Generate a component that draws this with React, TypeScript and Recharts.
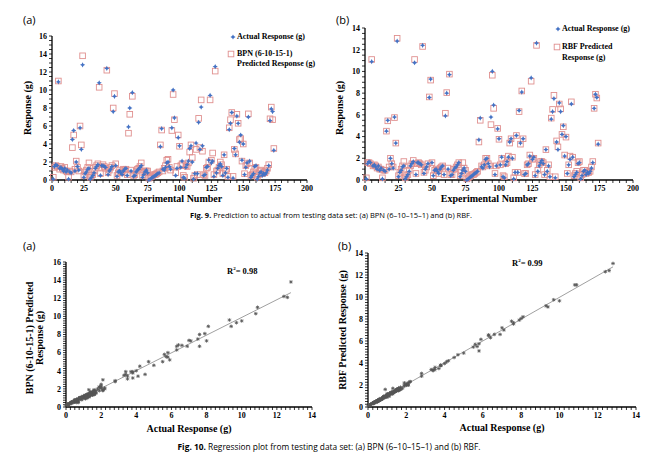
import React from 'react';
import { ScatterChart, Scatter, XAxis, YAxis, ReferenceLine } from 'recharts';

// measured responses (g), experiments 1..174
const ACTUAL = [
  0.1, 1.5, 1.7, 1.6, 10.9, 1.3, 1.4, 1.2, 1.0, 1.3,
  0.9, 1.1, 0.1, 0.9, 0.8, 4.5, 5.5, 1.0, 2.0, 1.5,
  1.1, 5.8, 3.4, 12.8, 0.3, 0.7, 0.9, 1.2, 1.3, 0.1,
  0.3, 0.5, 0.8, 1.3, 1.5, 1.7, 10.8, 0.5, 1.6, 1.6,
  1.5, 1.4, 12.4, 0.6, 1.0, 1.2, 1.5, 7.6, 9.3, 1.6,
  0.4, 0.9, 1.0, 0.8, 0.6, 1.0, 1.2, 1.3, 0.5, 5.9,
  8.0, 1.0, 9.7, 0.4, 0.5, 0.9, 1.1, 1.2, 1.4, 1.6,
  0.3, 0.6, 0.9, 1.1, 0.8, 0.0, 0.1, 0.2, 0.3, 0.4,
  0.5, 0.6, 0.7, 0.8, 3.7, 5.7, 1.2, 1.1, 1.4, 1.9,
  2.0, 1.5, 1.2, 5.8, 10.0, 6.9, 0.5, 1.3, 4.7, 3.8,
  1.4, 2.1, 0.3, 0.2, 1.4, 1.7, 2.1, 3.5, 3.8, 2.0,
  0.1, 0.7, 4.1, 0.7, 6.4, 3.4, 8.1, 3.8, 0.5, 0.6,
  1.4, 1.5, 2.2, 9.4, 1.9, 2.1, 0.4, 12.6, 0.8, 1.3,
  1.6, 1.8, 1.5, 0.5, 2.8, 0.8, 1.3, 0.3, 5.6, 6.3,
  7.5, 0.2, 3.5, 2.8, 7.1, 6.3, 4.2, 5.0, 2.2, 4.0,
  0.6, 1.4, 1.9, 7.0, 2.1, 0.3, 0.5, 0.7, 1.5, 1.6,
  0.1, 0.4, 0.8, 0.9, 0.5, 0.7, 0.6, 0.8, 1.1, 1.6,
  6.6, 7.9, 7.6, 3.3,
];

// BPN (6-10-15-1) predictions
const BPN = [
  0.3, 1.4, 1.6, 1.5, 11.0, 1.2, 1.5, 1.3, 1.1, 1.4,
  1.0, 0.9, 0.3, 1.0, 0.9, 3.6, 5.0, 1.2, 2.1, 1.4,
  1.0, 6.0, 3.9, 13.8, 0.5, 0.9, 1.1, 1.4, 1.9, 0.3,
  0.5, 0.6, 1.0, 1.4, 1.6, 1.8, 10.3, 0.7, 1.4, 1.7,
  1.5, 1.3, 12.2, 0.8, 1.1, 1.4, 1.6, 8.0, 9.6, 1.8,
  0.5, 0.8, 1.1, 0.9, 0.8, 1.2, 1.1, 1.2, 0.6, 5.2,
  7.3, 1.1, 9.3, 0.5, 0.6, 1.0, 1.2, 1.3, 1.5, 1.9,
  0.5, 0.8, 1.0, 1.0, 1.0, 0.2, 0.3, 0.4, 0.5, 0.6,
  0.6, 0.7, 0.8, 0.9, 3.9, 5.55, 1.0, 1.3, 1.6, 2.2,
  2.3, 1.4, 1.1, 5.5, 9.5, 6.7, 0.8, 1.5, 5.0, 3.75,
  1.6, 1.8, 0.5, 0.3, 1.6, 1.5, 1.9, 3.1, 3.9, 2.5,
  0.2, 0.5, 3.4, 0.6, 6.85, 3.6, 8.9, 3.2, 0.6, 0.5,
  1.3, 1.4, 2.0, 8.9, 2.2, 3.0, 0.6, 12.1, 1.0, 1.1,
  1.4, 2.0, 1.7, 0.7, 2.8, 1.0, 1.2, 0.4, 5.8, 6.7,
  7.5, 0.4, 3.4, 2.9, 7.3, 6.3, 4.5, 4.6, 2.1, 4.0,
  0.7, 1.6, 1.8, 7.35, 1.9, 0.5, 0.6, 0.9, 1.3, 1.4,
  0.3, 0.6, 1.0, 1.1, 0.7, 0.9, 0.8, 1.0, 1.3, 1.7,
  6.8, 8.1, 6.7, 3.5,
];

// RBF predictions
const RBF = [
  0.2, 1.6, 1.6, 1.5, 11.1, 1.3, 1.4, 1.3, 1.1, 1.2,
  1.0, 1.0, 0.2, 0.9, 0.9, 4.5, 5.45, 1.2, 2.0, 1.5,
  1.2, 5.75, 3.4, 13.05, 0.4, 0.7, 1.0, 1.3, 1.7, 0.2,
  0.4, 0.5, 0.9, 1.3, 1.5, 1.8, 11.1, 0.6, 1.5, 1.6,
  1.5, 1.4, 12.3, 0.7, 0.9, 1.2, 1.5, 7.65, 9.2, 1.6,
  0.4, 0.9, 1.0, 0.9, 0.6, 1.1, 1.2, 1.3, 0.5, 6.15,
  8.05, 1.1, 9.75, 0.5, 0.5, 1.0, 1.0, 1.2, 1.4, 1.6,
  0.4, 0.7, 1.6, 1.1, 0.9, 0.1, 0.2, 0.3, 0.4, 0.5,
  0.5, 0.6, 0.7, 0.8, 3.5, 5.5, 1.3, 1.2, 1.4, 2.0,
  2.0, 1.5, 1.3, 5.1, 9.65, 6.6, 0.6, 1.3, 4.75, 3.75,
  1.4, 2.0, 0.4, 0.3, 1.5, 1.6, 2.2, 3.4, 3.8, 2.1,
  0.2, 0.7, 4.1, 0.7, 6.3, 3.3, 8.2, 3.8, 0.6, 0.6,
  1.4, 1.5, 2.3, 9.1, 1.9, 2.0, 0.5, 12.4, 0.9, 1.4,
  1.7, 1.7, 1.6, 0.5, 2.8, 0.9, 1.4, 0.3, 5.7, 6.5,
  7.8, 0.3, 3.6, 3.05, 7.0, 6.55, 4.2, 4.9, 2.3, 3.95,
  0.6, 1.4, 2.2, 7.2, 2.1, 0.4, 0.6, 0.8, 1.6, 1.7,
  0.2, 0.5, 0.9, 0.9, 0.6, 0.7, 0.7, 0.8, 1.2, 1.7,
  6.6, 7.9, 7.55, 3.4,
];

const EXP_LABELS = [0, 25, 50, 75, 100, 125, 150, 175, 200];
const RESP_LABELS_16 = [0, 2, 4, 6, 8, 10, 12, 14, 16];
const RESP_LABELS_14 = [0, 2, 4, 6, 8, 10, 12, 14];

const minorTicks = (max: number, step: number) => {
  const out: number[] = [];
  for (let v = 0; v <= max + 1e-9; v += step) out.push(Math.round(v * 100) / 100);
  return out;
};

const fmt = (labels: number[]) => (v: number) => (labels.includes(v) ? String(v) : '');

const fit = (xs: number[], ys: number[]) => {
  const n = xs.length;
  const mx = xs.reduce((s, v) => s + v, 0) / n;
  const my = ys.reduce((s, v) => s + v, 0) / n;
  let sxy = 0, sxx = 0;
  xs.forEach((x, i) => { sxy += (x - mx) * (ys[i] - my); sxx += (x - mx) ** 2; });
  const a = sxy / sxx;
  return { a, b: my - a * mx };
};

const actualPts = ACTUAL.map((v, i) => ({ n: i + 1, y: v }));
const bpnPts = BPN.map((v, i) => ({ n: i + 1, y: v }));
const rbfPts = RBF.map((v, i) => ({ n: i + 1, y: v }));
const bpnReg = ACTUAL.map((v, i) => ({ x: v, y: BPN[i] }));
const rbfReg = ACTUAL.map((v, i) => ({ x: v, y: RBF[i] }));
const xMax = Math.max(...ACTUAL);
const bpnFit = fit(ACTUAL, BPN);
const rbfFit = fit(ACTUAL, RBF);

const SERIF = '"Liberation Serif", "Times New Roman", serif';
const SANS = '"Open Sans", "Liberation Sans", sans-serif';
const BLUE = '#4472c4';
const PINK = '#e0908f';

const tickStyle = { fontFamily: SERIF, fontWeight: 700, fontSize: 8, fill: '#000' };
const axisLine = { stroke: '#000', strokeWidth: 1.3 };
const tickLine = { stroke: '#000', strokeWidth: 0.8 };

const starPath = (cx: number, cy: number, r: number, k: number) =>
  `M${cx},${cy - r}L${cx + k},${cy - k}L${cx + r},${cy}L${cx + k},${cy + k}L${cx},${cy + r}L${cx - k},${cy + k}L${cx - r},${cy}L${cx - k},${cy - k}Z`;

const BlueStar = (p: any) => <path d={starPath(p.cx, p.cy, 2.6, 0.9)} fill={BLUE} />;
const PinkSquare = (p: any) => (
  <rect x={p.cx - 2.8} y={p.cy - 2.8} width={5.6} height={5.6} fill="none" stroke={PINK} strokeWidth={0.9} />
);
const GreyStar = (p: any) => {
  const { cx, cy } = p;
  const r = 1.8;
  return (
    <path
      d={`M${cx - r},${cy}H${cx + r}M${cx},${cy - r}V${cy + r}M${cx - 1.3},${cy - 1.3}L${cx + 1.3},${cy + 1.3}M${cx - 1.3},${cy + 1.3}L${cx + 1.3},${cy - 1.3}`}
      stroke="#555"
      strokeWidth={0.8}
    />
  );
};

const Txt: React.FC<{ x: number; y: number; size?: number; bold?: boolean; font?: string; rotate?: boolean; center?: boolean; children: React.ReactNode }> = ({ x, y, size = 10, bold = true, font = SERIF, rotate, center, children }) => (
  <div
    style={{
      position: 'absolute',
      left: x,
      top: y,
      fontFamily: font,
      fontWeight: bold ? 700 : 400,
      fontSize: size,
      lineHeight: 1,
      whiteSpace: 'nowrap',
      transform: rotate ? 'translate(-50%, -50%) rotate(-90deg)' : center ? 'translate(-50%, -50%)' : 'translateY(-50%)',
      textAlign: 'center',
    }}
  >
    {children}
  </div>
);

const Glyph: React.FC<{ x: number; y: number; kind: 'star' | 'square' }> = ({ x, y, kind }) => (
  <svg style={{ position: 'absolute', left: x - 4, top: y - 4 }} width={8} height={8}>
    {kind === 'star' ? <BlueStar cx={4} cy={4} /> : <PinkSquare cx={4} cy={4} />}
  </svg>
);

const TimeChart: React.FC<{ left: number; width: number; top: number; yw: number; mr: number; mt: number; yMax: number; yLabels: number[]; pred: { n: number; y: number }[] }> = ({ left, width, top, yw, mr, mt, yMax, yLabels, pred }) => (
  <div style={{ position: 'absolute', left, top }}>
    <ScatterChart width={width} height={210} margin={{ top: mt, right: mr, bottom: 0, left: 0 }}>
      <XAxis type="number" dataKey="n" domain={[0, 200]} ticks={minorTicks(200, 5)} interval={0} tickFormatter={fmt(EXP_LABELS)} tick={tickStyle} axisLine={axisLine} tickLine={tickLine} tickSize={3} tickMargin={2} height={30} />
      <YAxis type="number" dataKey="y" domain={[0, yMax]} ticks={minorTicks(yMax, 0.5)} interval={0} tickFormatter={fmt(yLabels)} tick={tickStyle} axisLine={axisLine} tickLine={tickLine} tickSize={3} tickMargin={2} width={yw} />
      <Scatter data={pred} shape={PinkSquare} isAnimationActive={false} />
      <Scatter data={actualPts} shape={BlueStar} isAnimationActive={false} />
    </ScatterChart>
  </div>
);

const RegChart: React.FC<{ left: number; width: number; yw: number; mr: number; mt: number; yMax: number; yLabels: number[]; data: { x: number; y: number }[]; line: { a: number; b: number } }> = ({ left, width, yw, mr, mt, yMax, yLabels, data, line }) => (
  <div style={{ position: 'absolute', left, top: 230 }}>
    <ScatterChart width={width} height={200} margin={{ top: mt, right: mr, bottom: 0, left: 0 }}>
      <XAxis type="number" dataKey="x" domain={[0, 14]} ticks={minorTicks(14, 0.25)} interval={0} tickFormatter={fmt(RESP_LABELS_14)} tick={tickStyle} axisLine={axisLine} tickLine={tickLine} tickSize={3} tickMargin={2} height={23} />
      <YAxis type="number" dataKey="y" domain={[0, yMax]} ticks={minorTicks(yMax, 0.25)} interval={0} tickFormatter={fmt(yLabels)} tick={tickStyle} axisLine={axisLine} tickLine={tickLine} tickSize={3} tickMargin={2} width={yw} />
      <ReferenceLine segment={[{ x: 0, y: line.b }, { x: xMax, y: line.a * xMax + line.b }]} stroke="#888" strokeWidth={0.8} ifOverflow="visible" />
      <Scatter data={data} shape={GreyStar} isAnimationActive={false} />
    </ScatterChart>
  </div>
);

export default function App() {
  return (
    <div style={{ position: 'absolute', left: 0, top: 0, width: 670, height: 458, background: '#fff', overflow: 'hidden' }}>
      <Txt x={23} y={19} size={11} bold={false} font={SANS}>(a)</Txt>
      <Txt x={336} y={19} size={11} bold={false} font={SANS}>(b)</Txt>
      <TimeChart left={0} width={320} top={0} yw={52} mr={13} mt={36} yMax={16} yLabels={RESP_LABELS_16} pred={bpnPts} />
      <TimeChart left={335} width={310} top={0} yw={30} mr={12} mt={28} yMax={14} yLabels={RESP_LABELS_14} pred={rbfPts} />
      <Txt x={28} y={108} rotate>Response (g)</Txt>
      <Txt x={340} y={108} rotate>Response (g)</Txt>
      <Txt x={174} y={199} center>Experimental Number</Txt>
      <Txt x={489} y={199} center>Experimental Number</Txt>

      <Glyph x={233} y={37} kind="star" />
      <Txt x={237} y={37} size={8}>Actual Response (g)</Txt>
      <Glyph x={231} y={54} kind="square" />
      <Txt x={237} y={54} size={8}>BPN (6-10-15-1)</Txt>
      <Txt x={237} y={64} size={8}>Predicted Response (g)</Txt>

      <Glyph x={558} y={29} kind="star" />
      <Txt x={562} y={29} size={8}>Actual Response (g)</Txt>
      <Glyph x={557} y={47} kind="square" />
      <Txt x={562} y={47} size={8}>RBF Predicted</Txt>
      <Txt x={562} y={58} size={8}>Response (g)</Txt>

      <Txt x={331} y={216} center bold={false} font={SANS} size={7.5}>
        <b>Fig. 9.</b> Prediction to actual from testing data set: (a) BPN (6–10–15–1) and (b) RBF.
      </Txt>

      <Txt x={23} y={245} size={11} bold={false} font={SANS}>(a)</Txt>
      <Txt x={338} y={245} size={11} bold={false} font={SANS}>(b)</Txt>
      <RegChart left={0} width={320} yw={66} mr={8} mt={32} yMax={16} yLabels={RESP_LABELS_16} data={bpnReg} line={bpnFit} />
      <RegChart left={335} width={310} yw={33} mr={9} mt={23} yMax={14} yLabels={RESP_LABELS_14} data={rbfReg} line={rbfFit} />
      <Txt x={227} y={271} size={8.5}>R<sup style={{ fontSize: 5 }}>2</sup>= 0.98</Txt>
      <Txt x={512} y={263} size={8.5}>R<sup style={{ fontSize: 5 }}>2</sup>= 0.99</Txt>
      <Txt x={35} y={338} rotate>
        BPN (6-10-15-1) Predicted
        <br />
        Response (g)
      </Txt>
      <Txt x={343} y={330} rotate>RBF Predicted Response (g)</Txt>
      <Txt x={189} y={429} center>Actual Response (g)</Txt>
      <Txt x={502} y={428} center>Actual Response (g)</Txt>

      <Txt x={329} y={447} center bold={false} font={SANS} size={8.35}>
        <b>Fig. 10.</b> Regression plot from testing data set: (a) BPN (6–10–15–1) and (b) RBF.
      </Txt>
    </div>
  );
}
